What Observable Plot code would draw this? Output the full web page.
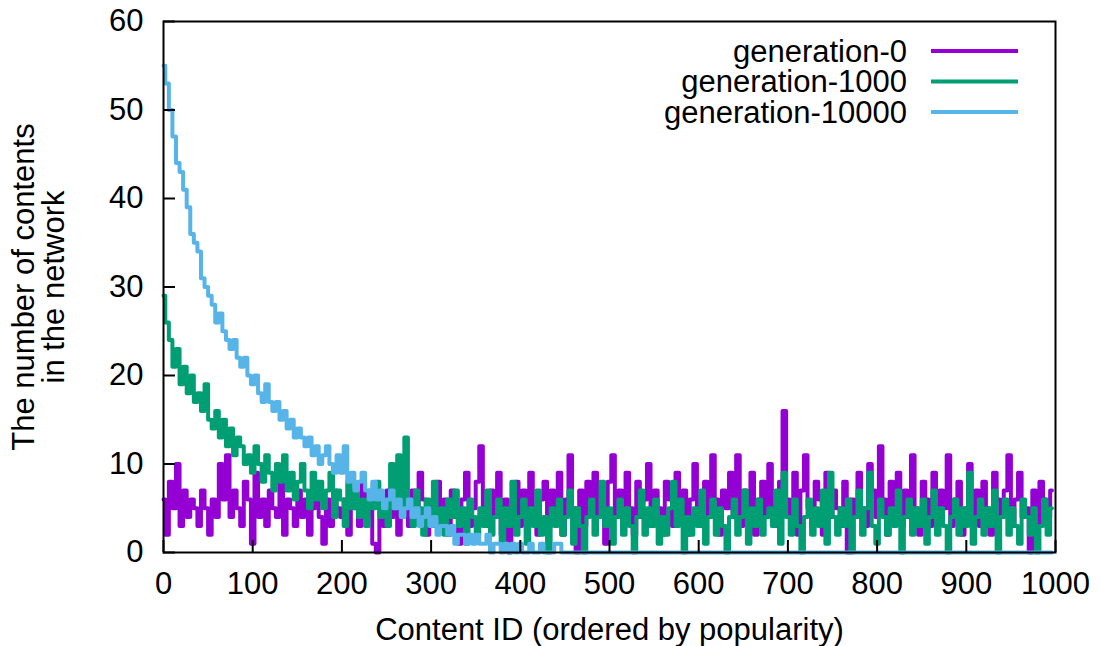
<!DOCTYPE html>
<html>
<head>
<meta charset="utf-8">
<script src="https://cdn.jsdelivr.net/npm/d3@7"></script>
<script src="https://cdn.jsdelivr.net/npm/@observablehq/plot@0.6"></script>
<style>
  html, body { margin: 0; padding: 0; background: #fff; }
  #chart { width: 1100px; height: 646px; }
</style>
</head>
<body>
<div id="chart"></div>
<script>
// Content IDs (sampled every 4th ID)
const ids = d3.range(0, 1000, 4);

const seriesNames = ["generation-0", "generation-1000", "generation-10000"];
const seriesColors = ["#9400d3", "#009e73", "#56b4e9"];

const gen0 = [
  6,2,8,5,10,3,7,4,6,5,
  3,7,5,2,6,4,10,6,11,4,
  7,5,3,8,6,1,9,4,6,3,
  7,5,4,8,2,6,5,3,7,4,
  6,2,5,8,4,1,6,3,7,5,
  4,6,2,7,5,3,8,4,6,1,
  0,5,3,7,4,6,2,8,5,3,
  7,4,9,6,2,5,3,8,4,6,
  2,7,4,1,6,9,3,5,8,12,
  5,3,7,4,9,2,6,0,5,8,
  3,7,4,9,5,2,6,8,3,7,
  4,9,2,6,11,5,0,7,3,8,
  5,9,4,6,1,8,11,4,7,3,
  9,5,2,8,4,6,10,3,7,5,
  2,8,6,3,9,4,7,2,6,10,
  5,3,8,4,11,6,2,7,5,9,
  4,11,3,7,5,9,2,6,8,4,
  10,5,3,8,16,6,4,9,2,7,
  11,5,3,8,6,2,9,4,7,5,
  3,8,0,6,4,9,5,3,10,7,
  4,12,6,2,8,5,9,3,7,4,
  11,5,2,8,6,3,9,4,7,5,
  11,3,6,8,2,5,10,4,7,3,
  8,5,2,9,6,4,7,11,3,6,
  9,4,5,0,7,3,8,6,4,7
];

const gen1000 = [
  29,26,24,21,23,19,21,18,20,17,
  18,16,19,15,14,16,13,15,12,14,
  11,13,12,10,11,9,12,10,8,11,
  9,7,10,8,11,7,9,6,8,10,
  7,5,9,6,8,5,7,9,4,7,
  6,3,8,5,7,4,6,3,7,5,
  8,4,6,3,10,5,11,4,13,6,
  3,7,5,2,6,4,8,3,5,2,
  6,4,7,3,5,1,6,4,2,5,
  3,7,2,4,6,1,5,3,8,2,
  4,6,1,5,3,7,2,4,0,5,
  3,6,2,4,7,1,5,3,0,4,
  6,2,4,8,3,5,1,4,6,2,
  5,3,0,4,7,2,5,3,6,1,
  4,2,5,8,3,6,0,4,2,5,
  3,7,1,4,6,2,5,3,0,4,
  6,2,4,7,1,5,3,6,2,4,
  5,3,7,1,9,4,2,6,3,0,
  4,6,2,5,3,7,1,9,4,2,
  5,3,6,0,4,7,2,5,9,3,
  1,6,4,2,5,3,7,0,4,6,
  2,5,3,6,1,4,7,2,5,3,
  0,4,6,2,5,3,9,1,4,6,
  2,5,3,7,0,4,6,2,5,3,
  1,6,4,2,5,0,3,6,2,5
];

const gen10000 = [
  55,53,50,47,44,43,41,39,36,35,
  34,31,30,29,28,26,27,25,24,23,
  24,22,21,22,20,19,20,18,17,19,
  17,16,17,15,16,14,15,13,14,13,
  12,13,11,12,10,11,12,10,9,11,
  9,12,8,9,7,8,9,7,6,8,
  6,7,5,6,7,5,6,4,5,6,
  4,5,3,4,5,3,4,2,3,3,
  2,3,1,2,2,1,2,1,2,1,
  1,2,0,1,1,0,1,0,1,0,
  1,0,0,1,0,0,1,0,0,0,
  1,1,0,0,0,0,0,0,0,0,
  0,0,0,0,0,0,0,0,0,0,
  0,0,0,0,0,0,0,0,0,0,
  0,0,0,0,0,0,0,0,0,0,
  0,0,0,0,0,0,0,0,0,0,
  0,0,0,0,0,0,0,0,0,0,
  0,0,0,0,0,0,0,0,0,0,
  0,0,0,0,0,0,0,0,0,0,
  0,0,0,0,0,0,0,0,0,0,
  0,0,0,0,0,0,0,0,0,0,
  0,0,0,0,0,0,0,0,0,0,
  0,0,0,0,0,0,0,0,0,0,
  0,0,0,0,0,0,0,0,0,0,
  0,0,0,0,0,0,0,0,0,0
];

const xTicks = [0, 100, 200, 300, 400, 500, 600, 700, 800, 900, 1000];
const yTicks = [0, 10, 20, 30, 40, 50, 60];

const xLabel = "Content ID (ordered by popularity)";
const yLabel = "The number of contents\nin the network";

const seriesValues = [gen0, gen1000, gen10000];
const data = seriesNames.flatMap((name, s) =>
  ids.map((id, i) => ({id, value: seriesValues[s][i], series: name}))
);

const W = 1100, H = 646;
const mL = 163, mR = 45, mT = 21, mB = 94;
const FS = 31;

const plot = Plot.plot({
  width: W,
  height: H,
  marginLeft: mL,
  marginRight: mR,
  marginTop: mT,
  marginBottom: mB,
  style: {fontFamily: "'Liberation Sans', Arial, sans-serif", fontSize: FS + "px", color: "black", background: "white"},
  x: {domain: [0, 1000]},
  y: {domain: [0, 60]},
  marks: [
    ...seriesNames.map((name, s) =>
      Plot.lineY(data.filter(d => d.series === name), {
        x: "id", y: "value", stroke: seriesColors[s], strokeWidth: 4, curve: "step"
      })
    ),
    Plot.frame({stroke: "black", strokeWidth: 2}),
    Plot.axisX({ticks: xTicks, tickSize: -12, tickPadding: 31, tickFormat: d => String(d), label: null, strokeWidth: 2}),
    Plot.axisY({ticks: yTicks, tickSize: -12, tickPadding: 32, tickFormat: d => String(d), label: null, strokeWidth: 2}),
    Plot.text([xLabel], {text: d => d, frameAnchor: "bottom", dy: 78, lineAnchor: "middle", fill: "black"}),
    Plot.text([yLabel], {text: d => d, frameAnchor: "left", rotate: -90, dx: -124, dy: 0, lineAnchor: "middle", textAnchor: "middle", lineHeight: 0.97, fill: "black"})
  ]
});

document.getElementById("chart").appendChild(plot);

// Legend (top-right, inside the frame)
const svg = d3.select(plot);
const frameRight = W - mR;
const leg = svg.append("g").attr("font-family", "'Liberation Sans', Arial, sans-serif").attr("font-size", FS);
seriesNames.forEach((name, s) => {
  const y = mT + 30 + s * 30.5;
  leg.append("text")
    .attr("x", frameRight - 148)
    .attr("y", y)
    .attr("dy", "0.35em")
    .attr("text-anchor", "end")
    .attr("fill", "black")
    .text(name);
  leg.append("line")
    .attr("x1", frameRight - 124)
    .attr("x2", frameRight - 37)
    .attr("y1", y)
    .attr("y2", y)
    .attr("stroke", seriesColors[s])
    .attr("stroke-width", 4);
});
</script>
</body>
</html>
